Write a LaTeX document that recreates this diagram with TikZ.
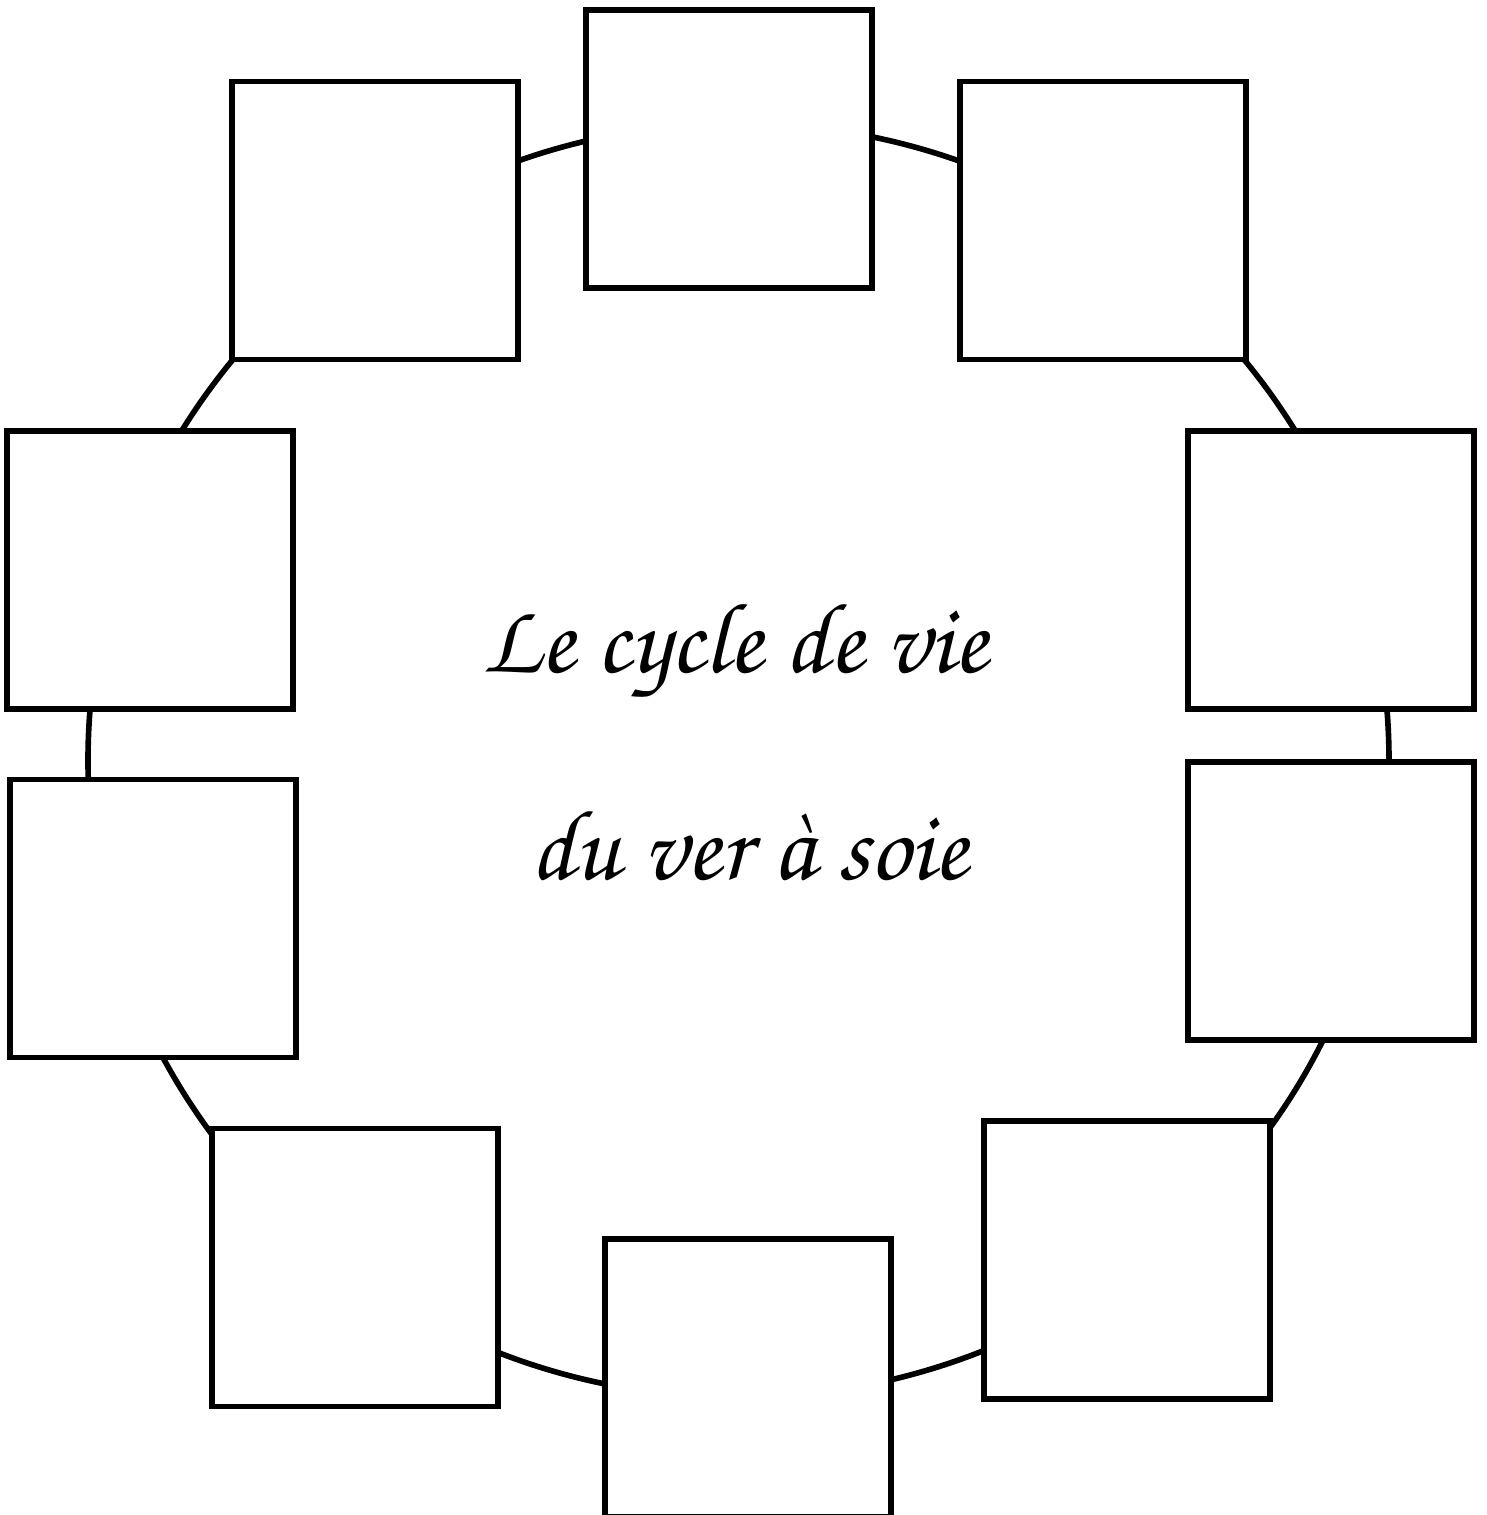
\documentclass[tikz,border=0pt]{standalone}
\usepackage[T1]{fontenc}
\usepackage{tikz}
\usetikzlibrary{positioning}
\newcommand{\cursive}{\fontfamily{pzc}\selectfont}

\begin{document}
\begin{tikzpicture}[
  stage/.style={draw, line width=1.6pt, fill=white, minimum width=2.86cm,
                minimum height=2.78cm, inner sep=0pt},
  ring/.style={line width=1.6pt},
  titre/.style={font=\cursive\fontsize{28.5}{34}\selectfont, anchor=base},
]
\useasboundingbox (0,0) rectangle (14.87,15.15);

% the ring
\coordinate (centre) at (7.385,7.546);
\draw[ring] (centre) ellipse [x radius=6.505, y radius=6.37];

% stages round the ring
\node[stage] (s1)  at (7.29,13.66)  {};
\node[stage] (s2)  at (3.75,12.945) {};
\node[stage] (s3)  at (11.03,12.945) {};
\node[stage] (s4)  at (1.50,9.45)   {};
\node[stage] (s5)  at (13.31,9.45)  {};
\node[stage] (s6)  at (1.53,5.965)  {};
\node[stage] (s7)  at (13.31,6.14)  {};
\node[stage] (s8)  at (3.55,2.475)  {};
\node[stage] (s9)  at (11.27,2.55)  {};
\node[stage] (s10) at (7.48,1.37)   {};

% title
\node[titre] (t1) at (7.35,8.42) {Le cycle de vie};
\node[titre] (t2) at (7.49,6.35) {du ver à soie};
\end{tikzpicture}
\end{document}
